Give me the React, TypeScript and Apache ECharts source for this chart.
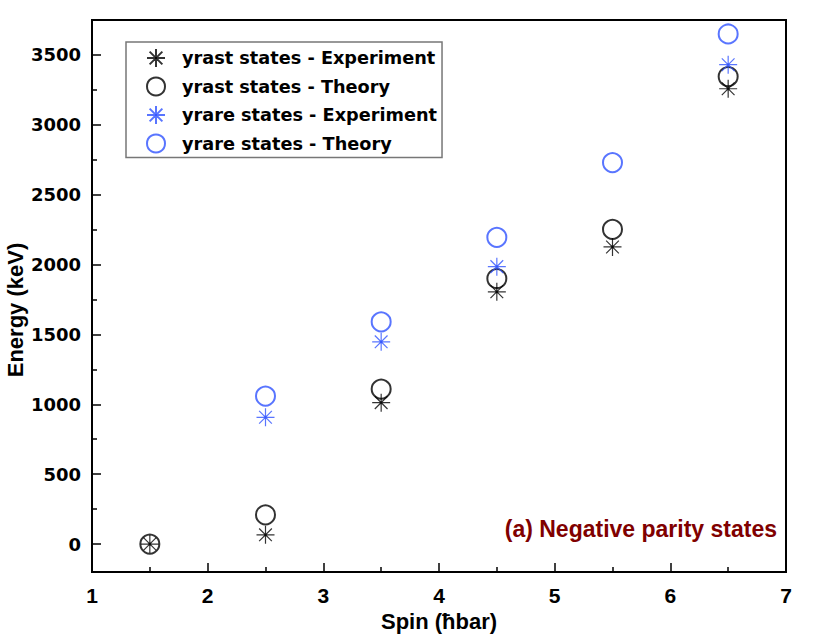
import React, { useEffect, useRef } from "react";
import * as echarts from "echarts";

const spinYrast = [1.5, 2.5, 3.5, 4.5, 5.5, 6.5];
const yrastExp = [0, 66, 1012, 1805, 2126, 3258];
const yrastTh = [0, 209, 1109, 1900, 2252, 3345];
const spinYrareExp = [2.5, 3.5, 4.5, 6.5];
const yrareExp = [907, 1447, 1985, 3430];
const spinYrareTh = [2.5, 3.5, 4.5, 5.5, 6.5];
const yrareTh = [1059, 1590, 2195, 2730, 3650];

const yTickValues = [0, 500, 1000, 1500, 2000, 2500, 3000, 3500];
const yMinorTickValues = [250, 750, 1250, 1750, 2250, 2750, 3250];

const legendNames = [
  "yrast states - Experiment",
  "yrast states - Theory",
  "yrare states - Experiment",
  "yrare states - Theory",
];

const BLUE = "#3052ff";
const STAR =
  "path://M0,10L20,10M10,0L10,20M2.93,2.93L17.07,17.07M17.07,2.93L2.93,17.07M8.8,8.8L11.2,8.8L11.2,11.2L8.8,11.2Z";

const zip = (xs: number[], ys: number[]) => xs.map((x, i) => [x, ys[i]]);

export default function App() {
  const ref = useRef<HTMLDivElement>(null);
  useEffect(() => {
    document.body.style.margin = "0";
    if (!ref.current) return;
    const chart = echarts.init(ref.current, undefined, { renderer: "svg" });
    const sans = "Liberation Sans, Arial, sans-serif";
    const wide = "DejaVu Sans, sans-serif";
    chart.setOption({
      animation: false,
      backgroundColor: "#ffffff",
      title: {
        text: "(a) Negative parity states",
        right: 53,
        top: 517,
        padding: 0,
        textStyle: { fontFamily: sans, fontWeight: "bold", fontSize: 23, color: "#800000" },
      },
      legend: {
        left: 126,
        top: 42,
        orient: "vertical",
        data: legendNames,
        itemWidth: 18,
        itemHeight: 18,
        itemGap: 8.5,
        padding: [6, 5, 4, 20],
        borderColor: "#777777",
        borderWidth: 1.5,
        textStyle: {
          fontFamily: wide,
          fontWeight: "bold",
          fontSize: 17.7,
          color: "#000",
          padding: [0, 0, 0, 12],
        },
      },
      grid: {
        left: 92,
        top: 20,
        right: 44,
        bottom: 70,
        outerBoundsMode: "none",
        containLabel: false,
        show: true,
        borderColor: "#000",
        borderWidth: 2,
      },
      xAxis: {
        type: "value",
        min: 1,
        max: 7,
        interval: 1,
        name: "Spin (ħbar)",
        nameLocation: "middle",
        nameGap: 38,
        nameMoveOverlap: false,
        nameTextStyle: { fontFamily: sans, fontWeight: "bold", fontSize: 22, color: "#000" },
        axisLine: { show: true, onZero: false, lineStyle: { color: "#000", width: 2 } },
        axisTick: { show: true, inside: true, length: 9, lineStyle: { color: "#000", width: 1.5 } },
        minorTick: { show: true, splitNumber: 2, length: 5, lineStyle: { color: "#000", width: 1.5 } },
        axisLabel: {
          margin: 13,
          formatter: (v: number) => String(v),
          fontFamily: sans,
          fontWeight: "bold",
          fontSize: 21,
          color: "#000",
        },
        splitLine: { show: false },
      },
      yAxis: [
        {
          type: "value",
          min: -200,
          max: 3750,
          name: "Energy (keV)",
          nameLocation: "middle",
          nameGap: 66,
          nameMoveOverlap: false,
          nameTextStyle: {
            fontFamily: sans,
            fontWeight: "bold",
            fontSize: 22,
            color: "#000",
            padding: [0, 28, 0, 0],
          },
          axisLine: { show: true, onZero: false, lineStyle: { color: "#000", width: 2 } },
          axisTick: {
            show: true,
            inside: true,
            length: 9,
            customValues: yTickValues,
            lineStyle: { color: "#000", width: 1.5 },
          },
          axisLabel: {
            customValues: yTickValues,
            formatter: (v: number) => String(v),
            margin: 11,
            fontFamily: wide,
            fontWeight: "bold",
            fontSize: 18,
            color: "#000",
          },
          splitLine: { show: false },
        },
        {
          type: "value",
          min: -200,
          max: 3750,
          position: "left",
          axisLine: { show: false, onZero: false },
          axisTick: {
            show: true,
            inside: true,
            length: 5,
            customValues: yMinorTickValues,
            lineStyle: { color: "#000", width: 1.5 },
          },
          axisLabel: { show: false },
          splitLine: { show: false },
        },
      ],
      series: [
        {
          name: legendNames[1],
          type: "scatter",
          symbol: "emptyCircle",
          symbolSize: 19,
          itemStyle: { color: "#000", borderWidth: 1.6 },
          data: zip(spinYrast, yrastTh),
        },
        {
          name: legendNames[3],
          type: "scatter",
          symbol: "emptyCircle",
          symbolSize: 19,
          itemStyle: { color: BLUE, borderWidth: 1.6 },
          data: zip(spinYrareTh, yrareTh),
        },
        {
          name: legendNames[0],
          type: "scatter",
          symbol: STAR,
          symbolSize: 18,
          itemStyle: { color: "#000", borderColor: "#000", borderWidth: 1.2 },
          data: zip(spinYrast, yrastExp),
        },
        {
          name: legendNames[2],
          type: "scatter",
          symbol: STAR,
          symbolSize: 18,
          itemStyle: { color: BLUE, borderColor: BLUE, borderWidth: 1.2 },
          data: zip(spinYrareExp, yrareExp),
        },
      ],
    });
    return () => chart.dispose();
  }, []);
  return <div ref={ref} style={{ width: 830, height: 642 }} />;
}
